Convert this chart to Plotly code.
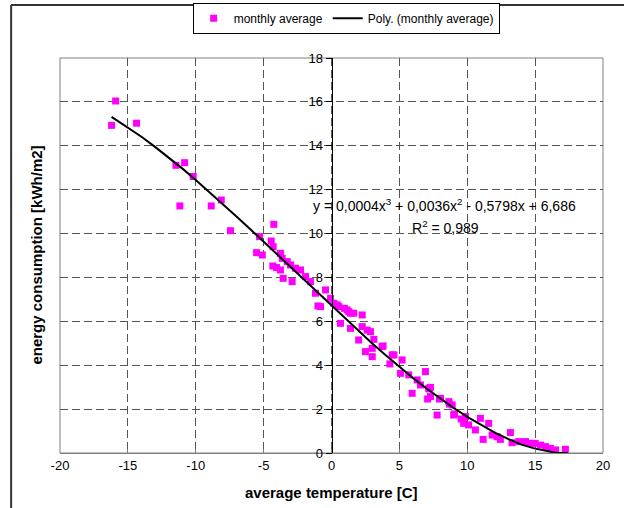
import plotly.graph_objects as go

# monthly average points (temperature [C], energy consumption [kWh/m2])
temp = [-16.2, -15.9, -14.36, -11.46, -10.82, -10.19, -11.17, -8.86, -8.12, -7.44,
        -5.3, -5.52, -5.1, -4.25, -4.44, -4.3, -4.32, -4.05, -3.76, -3.63,
        -3.76, -3.56, -3.26, -3.02, -2.9, -2.65, -2.28, -1.91, -1.55, -1.18,
        -1.0, -0.81, -0.44, -0.07, 0.17, 0.42, 0.54, 0.66, 0.96, 1.15,
        1.27, 1.4, 1.4, 1.64, 2.26, 2.26, 2.0, 2.63, 2.87, 2.5,
        3.12, 3.0, 3.0, 3.73, 4.47, 4.3, 5.2, 5.08, 5.69, 6.92,
        6.31, 6.55, 7.16, 5.94, 7.29, 7.29, 8.03, 8.64, 8.89, 7.78,
        9.0, 9.87, 9.74, 10.1, 10.6, 10.97, 11.58, 11.17, 11.83, 12.2,
        12.44, 13.18, 13.3, 13.8, 14.29, 14.65, 15.0, 15.4, 15.76, 16.13,
        16.5, 17.23, 7.08, 7.2, 7.95, 8.69, 9.06, 9.55, 3.8, 4.6]
energy = [14.93, 16.04, 15.03, 13.11, 13.23, 12.6, 11.26, 11.26, 11.53, 10.13,
          9.86, 9.13, 9.02, 10.42, 9.66, 9.4, 8.52, 8.45, 9.1, 8.87,
          8.34, 7.96, 8.72, 8.57, 7.81, 8.42, 8.34, 8.04, 7.81, 7.28,
          6.7, 6.67, 7.43, 7.05, 6.82, 6.75, 6.67, 5.91, 6.59, 6.52,
          6.44, 5.68, 6.37, 6.37, 6.29, 5.76, 5.15, 5.6, 5.53, 4.62,
          5.18, 4.77, 4.39, 4.85, 4.47, 4.06, 4.24, 3.63, 3.56, 3.71,
          3.33, 3.1, 2.95, 2.72, 2.57, 2.99, 2.49, 2.34, 2.19, 1.73,
          1.73, 1.66, 1.35, 1.28, 1.05, 1.58, 1.35, 0.62, 0.82, 0.74,
          0.62, 0.93, 0.47, 0.52, 0.52, 0.44, 0.44, 0.36, 0.29, 0.21,
          0.14, 0.17, 2.46, 2.92, 2.46, 2.23, 1.78, 1.55, 4.88, 4.47]

# trend line
trend_x = [-16.2, -15, -14, -13, -12, -11, -10, -9, -8, -7, -6, -5, -4, -3, -2, -1,
           0, 1, 2, 3, 4, 5, 6, 7, 8, 9, 10, 11, 12, 13, 14, 15, 16, 16.6, 17.4]
trend_y = [15.32, 14.84, 14.41, 13.95, 13.47, 12.97, 12.44, 11.9, 11.35, 10.78,
           10.21, 9.63, 9.04, 8.45, 7.86, 7.27, 6.69, 6.11, 5.54, 4.99, 4.45,
           3.93, 3.42, 2.94, 2.48, 2.05, 1.65, 1.28, 0.94, 0.64, 0.38, 0.2, 0.07, 0.0, 0.0]

x_ticks = [-20, -15, -10, -5, 0, 5, 10, 15, 20]
y_ticks = [0, 2, 4, 6, 8, 10, 12, 14, 16, 18]

FONT = "Liberation Sans, Arial, sans-serif"
GRID = "#555555"

fig = go.Figure()
fig.add_trace(go.Scatter(
    x=temp, y=energy, mode="markers", name="monthly average",
    marker=dict(symbol="square", size=7, color="#FF00FF", line=dict(width=0)),
    cliponaxis=False))
fig.add_trace(go.Scatter(
    x=trend_x, y=trend_y, mode="lines", name="Poly. (monthly average)",
    line=dict(color="black", width=2)))

fig.update_layout(
    width=624, height=508,
    margin=dict(l=60, r=21, t=58, b=55, autoexpand=False),
    paper_bgcolor="white", plot_bgcolor="white",
    font=dict(family=FONT, size=13, color="black"),
    showlegend=True,
    legend=dict(orientation="h", x=0.527, xanchor="center", y=1.14, yanchor="top",
                bordercolor="black", borderwidth=1, bgcolor="white",
                font=dict(family=FONT, size=12, color="black"),
                itemwidth=30, tracegroupgap=0),
    xaxis=dict(range=[-20, 20], tickvals=x_ticks, ticktext=[str(v) for v in x_ticks],
               showgrid=True, gridcolor=GRID, griddash="8px,4px", gridwidth=1,
               zeroline=False, showline=True, linecolor="#808080", linewidth=1,
               ticks="inside", ticklen=4, tickcolor="#808080",
               tickfont=dict(family=FONT, size=13, color="black")),
    yaxis=dict(range=[0, 18], tickvals=y_ticks, ticktext=[str(v) for v in y_ticks],
               anchor="free", position=0.5,
               showgrid=True, gridcolor=GRID, griddash="8px,4px", gridwidth=1,
               zeroline=False, showline=True, linecolor="black", linewidth=1,
               ticks="outside", ticklen=6, tickcolor="black",
               tickfont=dict(family=FONT, size=13, color="black")),
    shapes=[
        dict(type="rect", xref="paper", yref="paper", x0=0, y0=0, x1=1, y1=1,
             line=dict(color="#808080", width=1), layer="below"),
        dict(type="line", xref="paper", yref="paper", x0=-0.09, y0=-0.2, x1=-0.09, y1=1.134,
             line=dict(color="#333333", width=2)),
        dict(type="line", xref="paper", yref="paper", x0=-0.09, y0=1.134, x1=1.1, y1=1.134,
             line=dict(color="#333333", width=2)),
    ],
    annotations=[
        dict(text="y = 0,0004x<sup>3</sup> + 0,0036x<sup>2</sup> - 0,5798x + 6,686",
             x=8.3, y=11.3, xref="x", yref="y", showarrow=False,
             font=dict(family=FONT, size=14, color="black")),
        dict(text="R<sup>2</sup> = 0,989", x=8.4, y=10.3, xref="x", yref="y",
             showarrow=False, font=dict(family=FONT, size=14, color="black")),
        dict(text="<b>energy consumption [kWh/m2]</b>", x=-0.044, y=0.5,
             xref="paper", yref="paper", xanchor="center", yanchor="middle",
             textangle=-90, showarrow=False,
             font=dict(family=FONT, size=15, color="black")),
        dict(text="<b>average temperature [C]</b>", x=0.5, y=-0.101,
             xref="paper", yref="paper", xanchor="center", yanchor="middle",
             showarrow=False,
             font=dict(family=FONT, size=15, color="black")),
    ],
)

fig.write_html("out.html")
